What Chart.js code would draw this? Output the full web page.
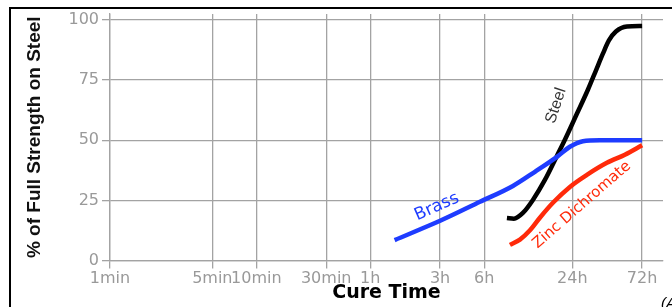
<!DOCTYPE html>
<html>
<head>
<meta charset="utf-8">
<script src="https://cdn.jsdelivr.net/npm/chart.js@4/dist/chart.umd.min.js"></script>
<style>
  html, body { margin: 0; padding: 0; background: #fff; overflow: hidden; }
  #wrap { position: relative; width: 672px; height: 307px; }
  #frame { position: absolute; left: 9px; top: 7px; right: 0; bottom: 0;
           border-top: 2px solid #000; border-left: 2px solid #000; pointer-events: none; }
  #note { position: absolute; left: 661px; top: 294px; font: italic 15px "Liberation Sans", Arial, sans-serif; color: #000; white-space: nowrap; }
  canvas { display: block; }
</style>
</head>
<body>
<div id="wrap">
  <canvas id="c" width="672" height="307"></canvas>
  <div id="frame"></div>
  <div id="note">(Approx.)</div>
</div>
<script>
// ---- data (time in minutes, strength in %) ----
const timeTicks  = [1, 5, 10, 30, 60, 180, 360, 1440, 4320];
const timeLabels = ['1min', '5min', '10min', '30min', '1h', '3h', '6h', '24h', '72h'];
const pctTicks   = [0, 25, 50, 75, 100];

const brassMinutes = [88, 180, 337, 566, 800, 1131, 1387, 1702, 2223, 4320];
const brassPct     = [8.5, 16.5, 24.4, 31, 36.9, 43.1, 47.3, 49.6, 50, 50];

const steelMinutes = [515, 575, 662, 775, 936, 1131, 1282, 1548, 1841, 2088, 2331, 2562, 2860, 3400, 4320];
const steelPct     = [17.7, 17.4, 19.8, 25.2, 33.5, 43.5, 50.2, 61, 71, 79, 86, 91.5, 95.2, 97.3, 97.5];

const zincMinutes  = [540, 632, 740, 865, 1062, 1387, 1812, 2482, 3295, 4320];
const zincPct      = [6.5, 8.7, 12.6, 17.8, 24, 30.6, 35.6, 40.6, 44, 47.9];

const seriesNames  = ['Brass', 'Steel', 'Zinc Dichromate'];
const seriesColors = ['#1e3cff', '#000000', '#ff2a0a'];

// in-chart curve labels: [minutes, percent] anchor
const labelAnchors = [[171, 22.3], [1113, 64.4], [1675, 23.1]];
const labelAngles  = [-24, -72, -41];

const toPts = (xs, ys) => xs.map((x, i) => ({ x, y: ys[i] }));

const curveLabels = {
  id: 'curveLabels',
  afterDatasetsDraw(chart) {
    const { ctx, scales } = chart;
    const fonts = ['17px "DejaVu Sans", sans-serif', '16px "Liberation Sans", Arial, sans-serif', '15px "DejaVu Sans", sans-serif'];
    const colors = [seriesColors[0], '#333333', seriesColors[2]];
    seriesNames.forEach((name, i) => {
      const px = scales.x.getPixelForValue(labelAnchors[i][0]);
      const py = scales.y.getPixelForValue(labelAnchors[i][1]);
      ctx.save();
      ctx.translate(px, py);
      ctx.rotate(labelAngles[i] * Math.PI / 180);
      ctx.font = fonts[i];
      ctx.fillStyle = colors[i];
      ctx.textAlign = 'center';
      ctx.textBaseline = 'middle';
      ctx.fillText(name, 0, 0);
      ctx.restore();
    });
  }
};

const gridColor = '#a3a3a3';
const tickColor = '#999999';

new Chart(document.getElementById('c'), {
  type: 'line',
  data: {
    datasets: [
      { label: seriesNames[0], data: toPts(brassMinutes, brassPct), borderColor: seriesColors[0] },
      { label: seriesNames[1], data: toPts(steelMinutes, steelPct), borderColor: seriesColors[1] },
      { label: seriesNames[2], data: toPts(zincMinutes, zincPct),  borderColor: seriesColors[2] }
    ].map(d => Object.assign(d, { borderWidth: 4.5, pointRadius: 0, fill: false, cubicInterpolationMode: 'monotone' }))
  },
  options: {
    responsive: false,
    devicePixelRatio: 1,
    animation: false,
    layout: { padding: { top: 14, right: 9, left: 0, bottom: 0 } },
    plugins: { legend: { display: false }, tooltip: { enabled: false } },
    scales: {
      x: {
        type: 'logarithmic',
        min: 1,
        max: 6000,
        afterBuildTicks: s => { s.ticks = timeTicks.map(v => ({ value: v })); },
        afterFit: s => { s.height = 46.5; },
        ticks: {
          autoSkip: false, maxRotation: 0, minRotation: 0, padding: 1,
          color: tickColor,
          font: { family: '"DejaVu Sans", sans-serif', size: 16 },
          callback: v => timeLabels[timeTicks.indexOf(v)]
        },
        grid: { color: gridColor, lineWidth: 1.3, tickLength: 8, drawTicks: true },
        border: { color: gridColor, width: 1.3 },
        title: {
          display: true, text: 'Cure Time', color: '#000',
          font: { family: '"DejaVu Sans", sans-serif', size: 19, weight: 'bold' },
          padding: { top: 0, bottom: 3 }
        }
      },
      y: {
        type: 'linear',
        min: 0,
        max: 102.5,
        afterBuildTicks: s => { s.ticks = pctTicks.map(v => ({ value: v })); },
        afterFit: s => { s.width = 110; },
        ticks: {
          padding: 3, color: tickColor,
          font: { family: '"DejaVu Sans", sans-serif', size: 16 }
        },
        grid: { color: gridColor, lineWidth: 1.3, tickLength: 8, drawTicks: true },
        border: { color: gridColor, width: 1.3 },
        title: {
          display: true, text: '% of Full Strength on Steel', color: '#111',
          font: { family: '"Liberation Sans", Arial, sans-serif', size: 19, weight: 'bold' },
          padding: { top: 23, bottom: 0 }
        }
      }
    }
  },
  plugins: [curveLabels]
});
</script>
</body>
</html>
